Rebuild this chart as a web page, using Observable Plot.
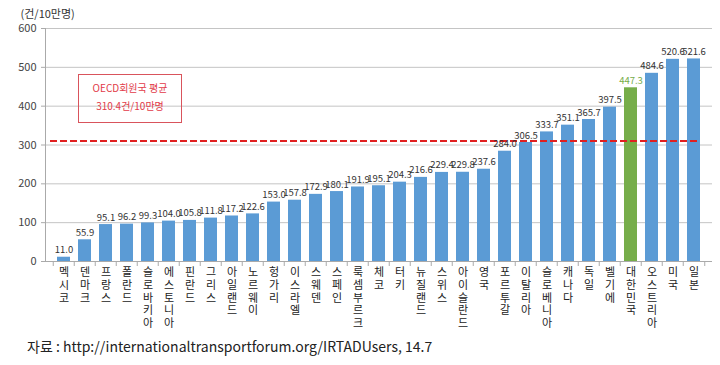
<!DOCTYPE html>
<html><head><meta charset="utf-8">
<script src="https://cdn.jsdelivr.net/npm/d3@7"></script>
<script src="https://cdn.jsdelivr.net/npm/@observablehq/plot@0.6"></script>
<style>
body{margin:0;background:#fff;font-family:"Noto Sans CJK KR","Noto Sans",sans-serif;}
#wrap{position:relative;width:720px;height:365px;}
#note{position:absolute;left:78px;top:74px;width:102px;height:43px;border:1px solid #d9545c;color:#e23a48;font-size:10px;text-align:center;line-height:18px;padding-top:4px;box-sizing:content-box;}
#cap{position:absolute;left:27px;top:336px;font-size:14px;color:#222;}
</style></head>
<body><div id="wrap"><div id="chart"></div>
<div id="note">OECD회원국 평균<br>310.4건/10만명</div>
<div id="cap">자료 : http://internationaltransportforum.org/IRTADUsers, 14.7</div></div>
<script>
const countries = ["멕시코","덴마크","프랑스","폴란드","슬로바키아","에스토니아","핀란드","그리스","아일랜드","노르웨이","헝가리","이스라엘","스웨덴","스페인","룩셈부르크","체코","터키","뉴질랜드","스위스","아이슬란드","영국","포르투갈","이탈리아","슬로베니아","캐나다","독일","벨기에","대한민국","오스트리아","미국","일본"];
const values = [11.0,55.9,95.1,96.2,99.3,104.0,105.8,111.8,117.2,122.6,153.0,157.8,172.9,180.1,191.9,195.1,204.3,216.6,229.4,229.8,237.6,284.0,306.5,333.7,351.1,365.7,397.5,447.3,484.6,520.6,521.6];
const highlight = "대한민국";
const oecdAvg = 310.4;
const yTicks = [0,100,200,300,400,500,600];

const data = countries.map((c,i)=>({country:c, value:values[i], kr:c===highlight}));
const W=720,H=333,mL=45,mR=8,pI=0.38,pO=0.2;
const step=(W-mL-mR)/(countries.length-pI+2*pO);
const font='"Noto Sans CJK KR","Noto Sans",sans-serif';

function makeChart(vertical){
  const labelMark = vertical
    ? Plot.text(data, {x:"country", y:0, text:"country", textAnchor:"start", dy:6, fontSize:11.5, fill:"#222", ariaLabel:"xlabels"})
    : Plot.text(data, {x:"country", y:0, text:d=>[...d.country].join("\n"), lineAnchor:"top", dy:6, fontSize:11, lineHeight:1.15, fill:"#222", ariaLabel:"xlabels"});
  const chart = Plot.plot({
    width:W, height:H, marginLeft:mL, marginRight:mR, marginTop:28, marginBottom:72,
    style:{fontFamily:font, background:"#fff"},
    x:{domain:countries, paddingInner:pI, paddingOuter:pO, axis:null},
    y:{domain:[0,600], ticks:yTicks, label:null},
    marks:[
      Plot.ruleY(yTicks.filter(d=>d>0), {stroke:"#c4c4c4", strokeWidth:1}),
      Plot.axisY({ticks:yTicks, tickSize:4, tickPadding:5, fontSize:11, color:"#444", stroke:"#aaa", label:null}),
      Plot.barY(data, {x:"country", y:"value", fill:d=>d.kr?"#76ad4a":"#5b9bd5"}),
      Plot.ruleY([0], {stroke:"#aaa"}),
      Plot.ruleX(data, {x:"country", y1:0, y2:0, dx:-step/2, insetBottom:-5, stroke:"#aaa"}),
      Plot.ruleX([countries[countries.length-1]], {x:d=>d, y1:0, y2:0, dx:step/2, insetBottom:-5, stroke:"#aaa"}),
      Plot.frame({anchor:"left", stroke:"#aaa"}),
      Plot.ruleY([oecdAvg], {stroke:"#e02020", strokeWidth:2, strokeDasharray:"7,3", insetLeft:5, insetRight:12}),
      Plot.text(data, {x:"country", y:"value", text:d=>d.value.toFixed(1), dy:-7, fontSize:9.5, fill:d=>d.kr?"#76ad4a":"#333"}),
      labelMark,
      Plot.text(["(건/10만명)"], {frameAnchor:"top-left", text:d=>d, dx:-25, dy:-18, fontSize:11, fill:"#333", textAnchor:"start"})
    ]
  });
  if (vertical) {
    d3.select(chart).select('g[aria-label="xlabels"]').selectAll("text")
      .attr("dy", null)
      .attr("writing-mode","vertical-rl")
      .attr("letter-spacing","1")
      .style("writing-mode","vertical-rl")
      .style("text-orientation","upright")
      .style("letter-spacing","1px");
  }
  return chart;
}
const host = document.getElementById("chart");
let chart = makeChart(true);
host.appendChild(chart);
const t = chart.querySelector('g[aria-label="xlabels"] text');
let ok = false;
try { const b = t.getBBox(); ok = b.height > b.width * 1.5; } catch(e) {}
if (!ok) { host.removeChild(chart); chart = makeChart(false); host.appendChild(chart); }
</script></body></html>
